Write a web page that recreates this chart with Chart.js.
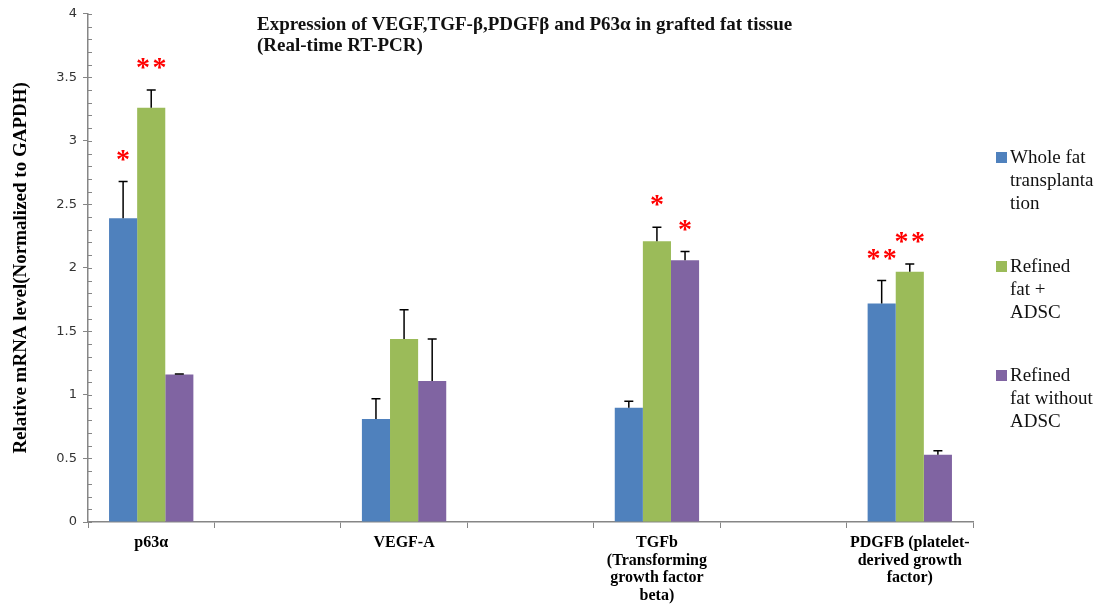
<!DOCTYPE html>
<html>
<head>
<meta charset="utf-8">
<script src="https://cdn.jsdelivr.net/npm/chart.js@4/dist/chart.umd.min.js"></script>
<style>
  html, body { margin: 0; padding: 0; background: #fff; }
  #wrap { width: 1102px; height: 606px; position: relative; }
</style>
</head>
<body>
<div id="wrap"><canvas id="grafico"></canvas></div>
<script>
// Grupos (categorias) do gráfico
const grupos = [
    'p63α',
    'VEGF-A',
    ['TGFb', '(Transforming', 'growth factor', 'beta)'],
    ['PDGFB (platelet-', 'derived growth', 'factor)']
];

// Séries
const nomesSeries = [
    ['Whole fat', 'transplanta', 'tion'],
    ['Refined', 'fat +', 'ADSC'],
    ['Refined', 'fat without', 'ADSC']
];
const inteiro = [2.39, 0.81, 0.90, 1.72];
const refinadoAdsc = [3.26, 1.44, 2.21, 1.97];
const refinadoSem = [1.16, 1.11, 2.06, 0.53];

// Barras de erro (só para cima)
const erroInteiro = [0.29, 0.16, 0.05, 0.18];
const erroRefinadoAdsc = [0.14, 0.23, 0.11, 0.06];
const erroRefinadoSem = [0.005, 0.33, 0.07, 0.03];

// Asteriscos de significância
const estrelasInteiro = ['*', '', '', '**'];
const estrelasRefinadoAdsc = ['**', '', '*', '**'];
const estrelasRefinadoSem = ['', '', '*', ''];

// Eixo y
const yTicks = [0, 0.5, 1, 1.5, 2, 2.5, 3, 3.5, 4];

const cores = ['#4F81BD', '#9BBB59', '#8064A2'];

// Intercala categorias vazias entre os grupos
function espalhar(arr, vazio) {
    const out = [];
    arr.forEach((v, i) => {
        if (i > 0) out.push(vazio);
        out.push(v);
    });
    return out;
}

const labels = espalhar(grupos, '');
const valores = [inteiro, refinadoAdsc, refinadoSem].map(a => espalhar(a, null));
const erros = [erroInteiro, erroRefinadoAdsc, erroRefinadoSem].map(a => espalhar(a, null));
const estrelas = [estrelasInteiro, estrelasRefinadoAdsc, estrelasRefinadoSem].map(a => espalhar(a, ''));

// Plugin: barras de erro, asteriscos, ticks menores, título e legenda
const extras = {
    id: 'extras',
    afterDatasetsDraw(chart) {
        const ctx = chart.ctx;
        const y = chart.scales.y;
        const x = chart.scales.x;

        // ticks menores (dentro do eixo)
        ctx.save();
        ctx.strokeStyle = '#868686';
        ctx.lineWidth = 1;
        for (let v = 0; v <= 4.0001; v += 0.1) {
            const py = Math.round(y.getPixelForValue(v)) + 0.5;
            ctx.beginPath();
            ctx.moveTo(x.left, py);
            ctx.lineTo(x.left + 4, py);
            ctx.stroke();
        }
        ctx.restore();

        chart.data.datasets.forEach((ds, di) => {
            const meta = chart.getDatasetMeta(di);
            meta.data.forEach((bar, i) => {
                const v = ds.data[i];
                if (v === null) return;
                const topo = v + erros[di][i];
                const py = y.getPixelForValue(topo);
                // barra de erro
                ctx.save();
                ctx.strokeStyle = '#000';
                ctx.lineWidth = 1.5;
                ctx.beginPath();
                ctx.moveTo(bar.x, y.getPixelForValue(v));
                ctx.lineTo(bar.x, py);
                ctx.moveTo(bar.x - 4.5, py);
                ctx.lineTo(bar.x + 4.5, py);
                ctx.stroke();
                ctx.restore();
                // asteriscos
                const s = estrelas[di][i];
                if (s) {
                    ctx.save();
                    ctx.fillStyle = '#FF0000';
                    ctx.font = 'bold 28px "Liberation Serif"';
                    ctx.textAlign = 'center';
                    ctx.textBaseline = 'middle';
                    ctx.fillText(s.split('').join('\u200a'), bar.x, py - 21);
                    ctx.restore();
                }
            });
        });
    },
    afterDraw(chart) {
        const ctx = chart.ctx;
        ctx.save();
        // título
        ctx.fillStyle = '#111';
        ctx.font = 'bold 19px "Liberation Serif"';
        ctx.textAlign = 'left';
        ctx.textBaseline = 'alphabetic';
        ctx.fillText('Expression of VEGF,TGF-β,PDGFβ and P63α in grafted fat tissue', 257, 30);
        ctx.fillText('(Real-time RT-PCR)', 257, 51);

        // legenda
        const tops = [152, 261, 370];
        ctx.font = '19px "Liberation Serif"';
        nomesSeries.forEach((linhas, i) => {
            ctx.fillStyle = cores[i];
            ctx.fillRect(996, tops[i], 11, 11);
            ctx.fillStyle = '#111';
            linhas.forEach((t, k) => {
                ctx.fillText(t, 1010, tops[i] + 11 + k * 23);
            });
        });
        ctx.restore();
    }
};

new Chart(document.getElementById('grafico').getContext('2d'), {
    type: 'bar',
    data: {
        labels: labels,
        datasets: valores.map((d, i) => ({
            label: nomesSeries[i].join(' '),
            data: d,
            backgroundColor: cores[i],
            borderWidth: 0,
            categoryPercentage: 0.667,
            barPercentage: 1.0
        }))
    },
    options: {
        responsive: true,
        maintainAspectRatio: false,
        animation: false,
        layout: { padding: { top: 11, right: 129, left: 0, bottom: 0 } },
        plugins: {
            legend: { display: false },
            tooltip: { enabled: false }
        },
        scales: {
            x: {
                grid: { drawOnChartArea: false, color: '#868686', tickLength: 6 },
                border: { color: '#868686', width: 1.5 },
                ticks: {
                    color: '#000',
                    padding: 6,
                    maxRotation: 0,
                    autoSkip: false,
                    font: { family: 'Liberation Serif', size: 16, weight: 'bold', lineHeight: 1.1 }
                },
                afterFit(scale) { scale.height = 84; }
            },
            y: {
                min: 0,
                max: 4,
                afterBuildTicks(scale) { scale.ticks = yTicks.map(v => ({ value: v })); },
                grid: { drawOnChartArea: false, color: '#868686', tickLength: 5 },
                border: { color: '#868686', width: 1.5 },
                ticks: {
                    color: '#333',
                    padding: 6,
                    font: { family: 'DejaVu Sans', size: 13 },
                    callback: v => String(v)
                },
                title: {
                    display: true,
                    text: 'Relative mRNA level(Normalized to GAPDH)',
                    color: '#000',
                    font: { family: 'Liberation Serif', size: 19, weight: 'bold' },
                    padding: { top: 10, bottom: 0 }
                },
                afterFit(scale) { scale.width = 88; }
            }
        }
    },
    plugins: [extras]
});
</script>
</body>
</html>
